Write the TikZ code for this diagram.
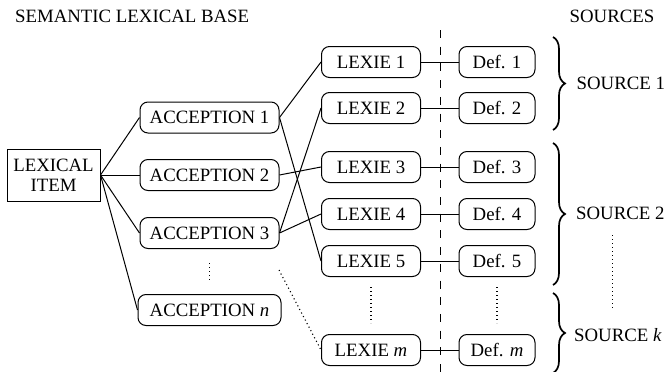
\documentclass[tikz,border=0pt]{standalone}
\usepackage{fontspec}
\setmainfont{Liberation Serif}
\usetikzlibrary{decorations.pathreplacing}
\begin{document}
\begin{tikzpicture}[x=1pt,y=-1pt,
  every node/.style={font=\fontsize{18.8}{20}\selectfont},
  plain/.style={inner sep=0pt},
  box/.style={draw, rounded corners=8pt, minimum height=31pt, inner sep=0pt, line width=1pt},
  acc/.style={box, minimum width=139pt},
  lex/.style={box, minimum width=99pt},
  dfn/.style={box, minimum width=76pt},
  link/.style={line width=1pt},
  dotline/.style={line width=1.1pt, dash pattern=on 1.1pt off 2.9pt},
  sep/.style={line width=1pt, dash pattern=on 8pt off 8.7pt},
  srcbrace/.style={decorate, decoration={brace, amplitude=12pt}, line width=1.7pt}]
\useasboundingbox (0,0) rectangle (667,372);

% titles
\node[plain, anchor=west] (title) at (15,16) {SEMANTIC LEXICAL BASE};
\node[plain] (sources) at (612,16) {SOURCES};

% lexical item
\node[draw, line width=1pt, minimum width=93pt, minimum height=52pt, align=center, inner sep=0pt] (item) at (53.5,175) {LEXICAL\\ITEM};

% acceptions
\node[acc] (acc1) at (209.5,117.5) {ACCEPTION 1};
\node[acc] (acc2) at (209.5,175) {ACCEPTION 2};
\node[acc] (acc3) at (209.5,233) {ACCEPTION 3};
\node[acc, minimum width=143pt] (accn) at (209.5,310) {ACCEPTION \textit{n}};

% lexies
\node[lex] (lex1) at (371,62) {LEXIE 1};
\node[lex] (lex2) at (371,108) {LEXIE 2};
\node[lex] (lex3) at (371,167) {LEXIE 3};
\node[lex] (lex4) at (371,214) {LEXIE 4};
\node[lex] (lex5) at (371,261) {LEXIE 5};
\node[lex] (lexm) at (371,350) {LEXIE \textit{m}};

% definitions
\node[dfn] (def1) at (497,62) {Def. 1};
\node[dfn] (def2) at (497,108) {Def. 2};
\node[dfn] (def3) at (497,167) {Def. 3};
\node[dfn] (def4) at (497,214) {Def. 4};
\node[dfn] (def5) at (497,261) {Def. 5};
\node[dfn] (defm) at (497,350) {Def. \textit{m}};

% source labels
\node[plain, anchor=west] (src1) at (576.5,83) {SOURCE 1};
\node[plain, anchor=west] (src2) at (576,213) {SOURCE 2};
\node[plain, anchor=west] (srck) at (574,335) {SOURCE \textit{k}};

% coordinates for dots
\coordinate (accdotA) at (209.5,263);
\coordinate (accdotB) at (209.5,280);
\coordinate (lexdotA) at (371,287);
\coordinate (lexdotB) at (371,323);
\coordinate (defdotA) at (497,287);
\coordinate (defdotB) at (497,323);
\coordinate (srcdotA) at (612.7,235);
\coordinate (srcdotB) at (612.7,309);
\coordinate (diagA) at (279,270);
\coordinate (sepTop) at (440,30);
\coordinate (sepBot) at (440,375);
\coordinate (b1t) at (553,37);
\coordinate (b1b) at (553,130);
\coordinate (b2t) at (553,143);
\coordinate (b2b) at (553,285);
\coordinate (bkt) at (553,293);
\coordinate (bkb) at (553,373);

% item to acceptions
\draw[link] (item.east) -- (acc1.west);
\draw[link] (item.east) -- (acc2.west);
\draw[link] (item.east) -- (acc3.west);
\draw[link] (item.east) -- (accn.west);

% acceptions to lexies
\draw[link] (acc1.east) -- (lex1.west);
\draw[link] (acc1.east) -- (lex5.west);
\draw[link] (acc2.east) -- (lex3.west);
\draw[link] (acc3.east) -- (lex2.west);
\draw[link] (acc3.east) -- (lex4.west);

% lexies to definitions
\draw[link] (lex1) -- (def1);
\draw[link] (lex2) -- (def2);
\draw[link] (lex3) -- (def3);
\draw[link] (lex4) -- (def4);
\draw[link] (lex5) -- (def5);
\draw[link] (lexm) -- (defm);

% dots
\draw[dotline] (accdotA) -- (accdotB);
\draw[dotline] (lexdotA) -- (lexdotB);
\draw[dotline] (defdotA) -- (defdotB);
\draw[dotline] (srcdotA) -- (srcdotB);
\draw[dotline] (diagA) -- (lexm.west);

% separator
\draw[sep] (sepTop) -- (sepBot);

% braces
\draw[srcbrace] (b1t) -- (b1b);
\draw[srcbrace] (b2t) -- (b2b);
\draw[srcbrace] (bkt) -- (bkb);
\end{tikzpicture}
\end{document}
